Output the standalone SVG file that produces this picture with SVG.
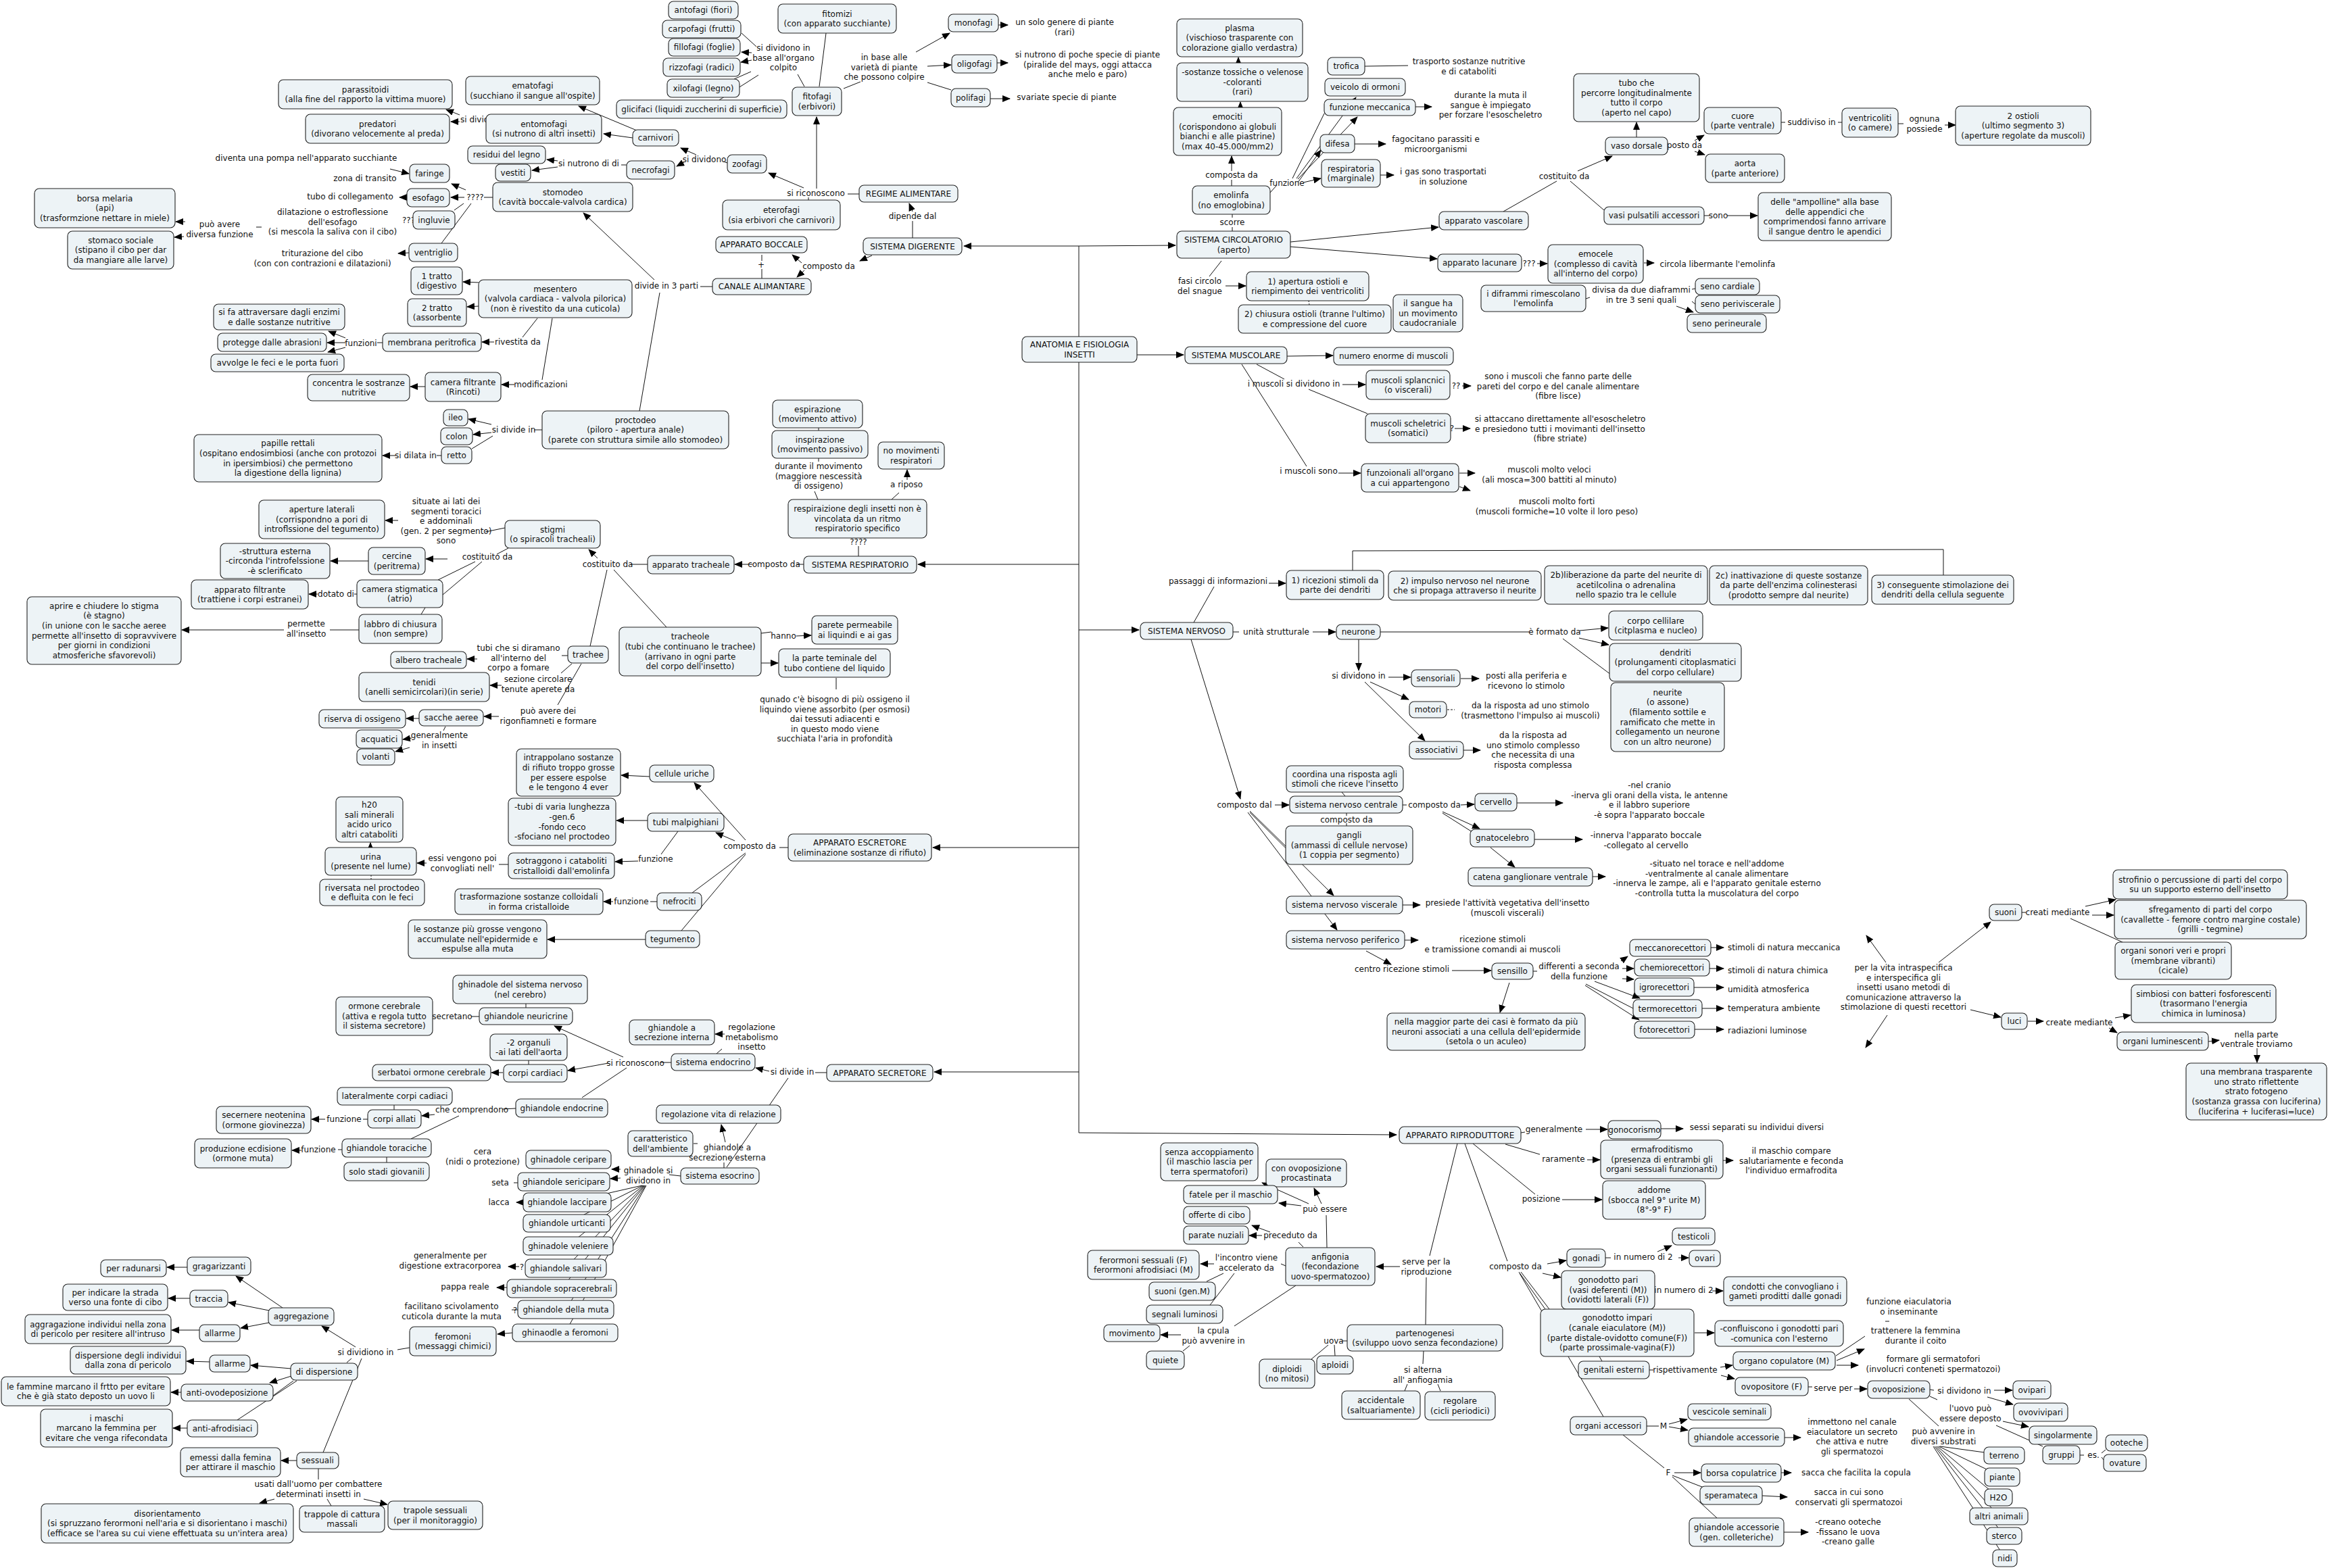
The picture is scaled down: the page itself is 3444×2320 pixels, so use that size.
<svg xmlns="http://www.w3.org/2000/svg" width="3444" height="2320" viewBox="0 0 3444 2320">
<style>
text{font-family:"DejaVu Sans",Verdana,sans-serif;font-size:12px;fill:#111;text-anchor:middle}
.n rect{fill:#edf3f6;stroke:#222;stroke-width:1.1}
#connectors path{fill:none;stroke:#111;stroke-width:1}
#connectors path.a{marker-end:url(#arr)}
.st{text-anchor:start}
</style>
<defs>
<marker id="arr" viewBox="0 0 12 10" refX="11" refY="5" markerWidth="12" markerHeight="10" markerUnits="userSpaceOnUse" orient="auto"><path d="M0,0 L12,5 L0,10 z" fill="#000"/></marker>
</defs>
<rect width="3444" height="2320" fill="#fff"/>
<g id="connectors">
<path d="M1596,364 L1596,1676 L2066,1679" class="a"/>
<path d="M1596,364 L1426,364" class="a"/>
<path d="M1596,364 L1739,363" class="a"/>
<path d="M1682,525 L1751,525" class="a"/>
<path d="M1596,835 L1358,835" class="a"/>
<path d="M1596,932 L1685,932" class="a"/>
<path d="M1596,1254 L1380,1254" class="a"/>
<path d="M1596,1586 L1382,1586" class="a"/>
<path d="M1350,352 L1350,327"/>
<path d="M1350,313 L1345,301" class="a"/>
<path d="M1290,378 L1272,386" class="a"/>
<path d="M1186,389 L1172,377" class="a"/>
<path d="M1190,400 L1179,410" class="a"/>
<path d="M1127,377 L1127,386"/>
<path d="M1127,398 L1127,412"/>
<path d="M1271,287 L1254,287"/>
<path d="M1208,279 L1208,173" class="a"/>
<path d="M1189,278 L1137,256" class="a"/>
<path d="M1196,292 L1196,297"/>
<path d="M1076,241 L1070,239"/>
<path d="M1030,229 L1007,219" class="a"/>
<path d="M1012,240 L1001,246" class="a"/>
<path d="M936,204 L893,198" class="a"/>
<path d="M942,193 L856,157" class="a"/>
<path d="M680,170 L660,162" class="a"/>
<path d="M680,180 L667,180" class="a"/>
<path d="M927,244 L919,244"/>
<path d="M825,238 L809,236" class="a"/>
<path d="M825,247 L787,252" class="a"/>
<path d="M1054,424 L1036,424"/>
<path d="M968,414 L863,315" class="a"/>
<path d="M976,433 L946,608"/>
<path d="M729,292 L716,292"/>
<path d="M689,281 L668,272" class="a"/>
<path d="M687,292 L667,292" class="a"/>
<path d="M686,301 L672,311"/>
<path d="M697,301 L653,360"/>
<path d="M577,250 L605,257" class="a"/>
<path d="M602,292 L591,292" class="a"/>
<path d="M605,374 L589,375" class="a"/>
<path d="M379,336 L387,336"/>
<path d="M274,328 L260,328" class="a"/>
<path d="M272,350 L258,351" class="a"/>
<path d="M708,418 L685,417" class="a"/>
<path d="M708,453 L691,454" class="a"/>
<path d="M795,471 L773,499"/>
<path d="M731,506 L713,506" class="a"/>
<path d="M566,507 L558,507"/>
<path d="M511,500 L486,490" class="a"/>
<path d="M511,507 L484,507" class="a"/>
<path d="M511,514 L485,521" class="a"/>
<path d="M817,471 L802,562"/>
<path d="M761,569 L742,569" class="a"/>
<path d="M629,572 L607,572" class="a"/>
<path d="M802,636 L790,636"/>
<path d="M727,628 L693,620" class="a"/>
<path d="M727,640 L700,643" class="a"/>
<path d="M729,645 L698,664"/>
<path d="M653,674 L646,674"/>
<path d="M585,674 L566,674" class="a"/>
<path d="M1190,128 L1180,110"/>
<path d="M1119,69 L1097,49"/>
<path d="M1112,78 L1097,77" class="a"/>
<path d="M1112,89 L1096,92" class="a"/>
<path d="M1111,106 L1086,117"/>
<path d="M1122,111 L1064,148"/>
<path d="M1212,128 L1222,49"/>
<path d="M1248,131 L1273,121"/>
<path d="M1355,77 L1405,49" class="a"/>
<path d="M1372,98 L1407,96" class="a"/>
<path d="M1372,122 L1407,133"/>
<path d="M1477,37 L1491,37" class="a"/>
<path d="M1475,93 L1491,93" class="a"/>
<path d="M1465,146 L1494,146" class="a"/>
<path d="M1270,823 L1270,808"/>
<path d="M1319,739 L1330,729"/>
<path d="M1342,710 L1342,695" class="a"/>
<path d="M1210,739 L1205,727"/>
<path d="M1211,683 L1211,678"/>
<path d="M1211,637 L1211,633"/>
<path d="M1189,835 L1178,835"/>
<path d="M1113,835 L1087,835" class="a"/>
<path d="M958,835 L933,835"/>
<path d="M884,826 L871,813" class="a"/>
<path d="M898,843 L873,956"/>
<path d="M908,843 L986,928"/>
<path d="M747,781 L718,787"/>
<path d="M589,770 L570,770" class="a"/>
<path d="M752,811 L735,820"/>
<path d="M662,827 L630,827" class="a"/>
<path d="M703,831 L648,858"/>
<path d="M713,831 L655,880"/>
<path d="M629,899 L623,909"/>
<path d="M545,830 L489,830" class="a"/>
<path d="M528,879 L524,879"/>
<path d="M470,879 L457,879" class="a"/>
<path d="M531,932 L488,932"/>
<path d="M420,932 L269,932" class="a"/>
<path d="M840,970 L831,970"/>
<path d="M706,975 L691,975" class="a"/>
<path d="M846,982 L830,996"/>
<path d="M742,1014 L725,1014" class="a"/>
<path d="M860,982 L825,1043"/>
<path d="M738,1060 L716,1060" class="a"/>
<path d="M620,1063 L601,1063" class="a"/>
<path d="M659,1075 L656,1081"/>
<path d="M609,1092 L596,1094" class="a"/>
<path d="M606,1106 L585,1112" class="a"/>
<path d="M1126,937 L1141,935"/>
<path d="M1178,941 L1200,940" class="a"/>
<path d="M1126,981 L1151,981" class="a"/>
<path d="M1237,1003 L1237,1020"/>
<path d="M1166,1254 L1153,1254"/>
<path d="M1103,1243 L1027,1158" class="a"/>
<path d="M1087,1244 L1059,1232" class="a"/>
<path d="M1103,1262 L1024,1321"/>
<path d="M1103,1264 L1008,1377"/>
<path d="M961,1149 L919,1147" class="a"/>
<path d="M958,1214 L912,1214" class="a"/>
<path d="M1003,1230 L978,1264"/>
<path d="M944,1274 L910,1275" class="a"/>
<path d="M752,1279 L738,1279"/>
<path d="M631,1277 L617,1277" class="a"/>
<path d="M548,1254 L548,1247" class="a"/>
<path d="M549,1295 L549,1301" stroke-dasharray="2,2"/>
<path d="M972,1334 L962,1334"/>
<path d="M907,1334 L893,1334" class="a"/>
<path d="M955,1390 L810,1390" class="a"/>
<path d="M1223,1587 L1206,1587"/>
<path d="M1138,1585 L1118,1580" class="a"/>
<path d="M1166,1595 L1075,1727"/>
<path d="M993,1572 L977,1572"/>
<path d="M1060,1559 L1068,1552"/>
<path d="M1072,1530 L1058,1530" class="a"/>
<path d="M922,1564 L820,1518" class="a"/>
<path d="M900,1573 L840,1584" class="a"/>
<path d="M927,1580 L861,1624"/>
<path d="M782,1569 L782,1575"/>
<path d="M778,1491 L778,1485"/>
<path d="M709,1504 L697,1504"/>
<path d="M744,1587 L727,1587" class="a"/>
<path d="M763,1640 L743,1641"/>
<path d="M643,1649 L624,1651" class="a"/>
<path d="M679,1651 L608,1685"/>
<path d="M583,1635 L583,1642"/>
<path d="M544,1656 L537,1656"/>
<path d="M481,1656 L461,1656" class="a"/>
<path d="M506,1701 L500,1701"/>
<path d="M446,1702 L432,1702" class="a"/>
<path d="M572,1712 L572,1720"/>
<path d="M1007,1740 L990,1738"/>
<path d="M918,1730 L905,1730" class="a"/>
<path d="M918,1743 L903,1744" class="a"/>
<path d="M950,1754 L840,1779"/>
<path d="M951,1754 L838,1810"/>
<path d="M952,1754 L840,1843"/>
<path d="M953,1754 L837,1876"/>
<path d="M954,1754 L831,1906"/>
<path d="M955,1754 L837,1937"/>
<path d="M956,1754 L836,1972"/>
<path d="M774,1779 L764,1779" class="a"/>
<path d="M766,1750 L760,1750"/>
<path d="M768,1874 L752,1874" class="a"/>
<path d="M750,1905 L735,1905" class="a"/>
<path d="M766,1938 L757,1938"/>
<path d="M758,1972 L736,1974" class="a"/>
<path d="M606,1994 L588,1997"/>
<path d="M526,1993 L476,1962" class="a"/>
<path d="M520,2010 L513,2016"/>
<path d="M535,2010 L478,2149"/>
<path d="M418,1935 L349,1888" class="a"/>
<path d="M398,1939 L338,1927" class="a"/>
<path d="M398,1957 L356,1965" class="a"/>
<path d="M277,1875 L247,1875" class="a"/>
<path d="M281,1921 L249,1921" class="a"/>
<path d="M295,1968 L254,1968" class="a"/>
<path d="M431,2025 L371,2020" class="a"/>
<path d="M431,2036 L399,2046" class="a"/>
<path d="M439,2043 L351,2101"/>
<path d="M404,2065 L434,2043"/>
<path d="M310,2015 L276,2014" class="a"/>
<path d="M268,2060 L253,2060" class="a"/>
<path d="M277,2113 L256,2113" class="a"/>
<path d="M439,2161 L416,2161" class="a"/>
<path d="M471,2173 L471,2189"/>
<path d="M406,2218 L384,2224" class="a"/>
<path d="M484,2218 L490,2228"/>
<path d="M538,2218 L573,2226" class="a"/>
<path d="M1071,1728 L1071,1720"/>
<path d="M1073,1690 L1067,1664" class="a"/>
<path d="M1026,1692 L1032,1692"/>
<path d="M1766,921 L1796,868"/>
<path d="M1877,863 L1902,863" class="a"/>
<path d="M2001,844 L2001,815 L2875,813 L2875,851"/>
<path d="M1824,935 L1833,935"/>
<path d="M1942,935 L1976,935" class="a"/>
<path d="M2042,935 L2262,935"/>
<path d="M2337,933 L2379,929" class="a"/>
<path d="M2336,944 L2380,954" class="a"/>
<path d="M2312,945 L2383,998"/>
<path d="M2010,946 L2010,992" class="a"/>
<path d="M2054,1002 L2087,1002" class="a"/>
<path d="M2027,1009 L2084,1035" class="a"/>
<path d="M2019,1009 L2108,1096" class="a"/>
<path d="M2161,1004 L2188,1004" class="a"/>
<path d="M2141,1050 L2152,1050" stroke-dasharray="3,2"/>
<path d="M2165,1110 L2190,1110" class="a"/>
<path d="M1762,946 L1835,1182" class="a"/>
<path d="M1886,1191 L1907,1191" class="a"/>
<path d="M1849,1200 L1902,1252"/>
<path d="M1849,1202 L1973,1325" class="a"/>
<path d="M1846,1202 L1978,1376" class="a"/>
<path d="M1992,1203 L1992,1207"/>
<path d="M1992,1218 L1992,1222"/>
<path d="M1990,1178 L1985,1172"/>
<path d="M2075,1191 L2081,1191"/>
<path d="M2161,1191 L2181,1190" class="a"/>
<path d="M2134,1201 L2189,1226" class="a"/>
<path d="M2134,1203 L2178,1231"/>
<path d="M2205,1254 L2241,1283" class="a"/>
<path d="M2244,1188 L2312,1188" class="a"/>
<path d="M2270,1242 L2341,1242" class="a"/>
<path d="M2356,1297 L2375,1297" class="a"/>
<path d="M2075,1339 L2101,1339" class="a"/>
<path d="M2078,1391 L2098,1391" class="a"/>
<path d="M2021,1407 L2058,1427" class="a"/>
<path d="M2148,1436 L2206,1436" class="a"/>
<path d="M2268,1437 L2274,1437"/>
<path d="M2398,1422 L2408,1415" class="a"/>
<path d="M2400,1433 L2417,1433" class="a"/>
<path d="M2400,1448 L2417,1449" class="a"/>
<path d="M2359,1452 L2426,1477" class="a"/>
<path d="M2346,1456 L2418,1493"/>
<path d="M2345,1458 L2425,1509" class="a"/>
<path d="M2531,1402 L2550,1402" class="a"/>
<path d="M2529,1433 L2550,1433" class="a"/>
<path d="M2506,1461 L2550,1461" class="a"/>
<path d="M2518,1492 L2550,1492" class="a"/>
<path d="M2507,1523 L2550,1523" class="a"/>
<path d="M2233,1454 L2219,1498" class="a"/>
<path d="M2790,1424 L2761,1384" class="a"/>
<path d="M2868,1424 L2945,1364" class="a"/>
<path d="M2915,1494 L2960,1505" class="a"/>
<path d="M2792,1502 L2760,1550" class="a"/>
<path d="M2991,1350 L2997,1350"/>
<path d="M3085,1341 L3130,1331" class="a"/>
<path d="M3095,1354 L3127,1354" class="a"/>
<path d="M3063,1359 L3140,1394"/>
<path d="M3000,1511 L3023,1511" class="a"/>
<path d="M3129,1506 L3152,1502" class="a"/>
<path d="M3120,1521 L3132,1528" class="a"/>
<path d="M3267,1541 L3283,1539" class="a"/>
<path d="M3339,1551 L3339,1572" class="a"/>
<path d="M1823,342 L1823,336"/>
<path d="M1823,322 L1823,317"/>
<path d="M1822,275 L1822,266"/>
<path d="M1822,253 L1822,231" class="a"/>
<path d="M1835,160 L1835,151" class="a"/>
<path d="M1832,93 L1832,85" class="a"/>
<path d="M1879,285 L1888,275"/>
<path d="M1918,264 L2006,144" class="a"/>
<path d="M1920,265 L2008,173" class="a"/>
<path d="M1912,264 L1959,168"/>
<path d="M1920,270 L1954,222" class="a"/>
<path d="M1928,270 L1954,264" class="a"/>
<path d="M2019,98 L2083,97"/>
<path d="M2094,158 L2118,158" class="a"/>
<path d="M2004,213 L2050,213" class="a"/>
<path d="M2042,259 L2062,259" class="a"/>
<path d="M1909,358 L2128,336" class="a"/>
<path d="M1909,365 L2126,383" class="a"/>
<path d="M1807,386 L1789,409"/>
<path d="M1813,423 L1843,423" class="a"/>
<path d="M1936,445 L1937,451" stroke-dasharray="2,2"/>
<path d="M2224,313 L2303,268"/>
<path d="M2334,253 L2385,231" class="a"/>
<path d="M2323,268 L2373,311"/>
<path d="M2421,203 L2421,181" class="a"/>
<path d="M2507,208 L2521,200" class="a"/>
<path d="M2507,224 L2522,229" class="a"/>
<path d="M2635,181 L2641,181"/>
<path d="M2719,181 L2725,181"/>
<path d="M2808,183 L2816,183"/>
<path d="M2877,185 L2893,185" class="a"/>
<path d="M2521,319 L2529,319"/>
<path d="M2555,319 L2600,319" class="a"/>
<path d="M2274,390 L2289,390" class="a"/>
<path d="M2432,389 L2447,389" class="a"/>
<path d="M2346,442 L2352,440"/>
<path d="M2503,428 L2508,427"/>
<path d="M2503,446 L2508,450"/>
<path d="M2480,453 L2505,462" class="a"/>
<path d="M1904,527 L1972,526" class="a"/>
<path d="M1859,539 L1900,561"/>
<path d="M1986,569 L2020,569" class="a"/>
<path d="M1936,576 L2023,612"/>
<path d="M1837,539 L1933,690"/>
<path d="M1980,700 L2013,700" class="a"/>
<path d="M2163,571 L2176,571" class="a"/>
<path d="M2152,634 L2175,634" class="a"/>
<path d="M2159,700 L2182,700" class="a"/>
<path d="M2159,720 L2175,726" class="a"/>
<path d="M2250,1676 L2256,1675"/>
<path d="M2346,1671 L2378,1671" class="a"/>
<path d="M2457,1670 L2490,1670" class="a"/>
<path d="M2227,1693 L2278,1708"/>
<path d="M2348,1716 L2367,1716" class="a"/>
<path d="M2549,1717 L2564,1717" class="a"/>
<path d="M2179,1692 L2271,1767"/>
<path d="M2311,1775 L2370,1775" class="a"/>
<path d="M2156,1692 L2115,1858"/>
<path d="M2071,1874 L2036,1874" class="a"/>
<path d="M2110,1890 L2109,1960"/>
<path d="M2167,1692 L2230,1866"/>
<path d="M2289,1870 L2317,1865" class="a"/>
<path d="M2282,1884 L2309,1890" class="a"/>
<path d="M2250,1882 L2292,1937"/>
<path d="M2247,1882 L2286,1937"/>
<path d="M2248,1884 L2372,2096"/>
<path d="M2375,1861 L2383,1861"/>
<path d="M2452,1852 L2473,1843" class="a"/>
<path d="M2483,1861 L2498,1861" class="a"/>
<path d="M2533,1910 L2549,1910" class="a"/>
<path d="M2507,1972 L2536,1972" class="a"/>
<path d="M2366,2007 L2370,2014"/>
<path d="M2440,2027 L2446,2027"/>
<path d="M2545,2023 L2563,2020" class="a"/>
<path d="M2546,2035 L2566,2040" class="a"/>
<path d="M2716,2006 L2759,1977"/>
<path d="M2717,2013 L2758,1996" class="a"/>
<path d="M2717,2020 L2749,2020" class="a"/>
<path d="M2789,1955 L2795,1955"/>
<path d="M2675,2052 L2681,2052"/>
<path d="M2743,2055 L2762,2055" class="a"/>
<path d="M2855,2056 L2861,2057"/>
<path d="M2950,2057 L2977,2057" class="a"/>
<path d="M2940,2067 L2978,2078" class="a"/>
<path d="M2855,2066 L2866,2071"/>
<path d="M2963,2103 L3001,2111" class="a"/>
<path d="M2953,2109 L3022,2140"/>
<path d="M3077,2153 L3083,2153"/>
<path d="M3109,2150 L3115,2145"/>
<path d="M3109,2156 L3112,2160"/>
<path d="M2824,2070 L2868,2110"/>
<path d="M2870,2140 L2965,2153"/>
<path d="M2868,2140 L2962,2185"/>
<path d="M2866,2140 L2956,2215"/>
<path d="M2864,2140 L2957,2243"/>
<path d="M2862,2140 L2965,2272"/>
<path d="M2860,2140 L2966,2305"/>
<path d="M2436,2110 L2454,2110"/>
<path d="M2469,2107 L2496,2100" class="a"/>
<path d="M2469,2111 L2497,2116" class="a"/>
<path d="M2401,2123 L2462,2172"/>
<path d="M2477,2179 L2516,2179" class="a"/>
<path d="M2474,2183 L2518,2200"/>
<path d="M2474,2185 L2540,2246"/>
<path d="M2640,2127 L2664,2127" class="a"/>
<path d="M2635,2179 L2650,2179" class="a"/>
<path d="M2607,2213 L2644,2215" class="a"/>
<path d="M2639,2267 L2675,2267" class="a"/>
<path d="M1963,1846 L1962,1798"/>
<path d="M1936,1781 L1867,1750" class="a"/>
<path d="M1925,1784 L1892,1780" class="a"/>
<path d="M1955,1781 L1944,1758" class="a"/>
<path d="M1928,1845 L1921,1838"/>
<path d="M1879,1823 L1852,1813" class="a"/>
<path d="M1867,1828 L1848,1828" class="a"/>
<path d="M1902,1873 L1895,1870"/>
<path d="M1796,1870 L1776,1870" class="a"/>
<path d="M1810,1884 L1785,1896"/>
<path d="M1826,1884 L1790,1931"/>
<path d="M1917,1902 L1826,1962"/>
<path d="M1747,1975 L1717,1975" class="a"/>
<path d="M1760,1991 L1750,1999"/>
<path d="M1993,1984 L1986,1984"/>
<path d="M1965,1990 L1940,2011"/>
<path d="M1974,1990 L1975,2006"/>
<path d="M2106,1999 L2105,2018"/>
<path d="M2082,2048 L2078,2058"/>
<path d="M2127,2048 L2131,2058"/>
</g>
<g id="labels">
<text x="681" y="181" class="st">si dividono</text>
<text x="871" y="246">si nutrono di di</text>
<text x="703" y="296">????</text>
<text x="453" y="238">diventa una pompa nell'apparato succhiante</text>
<text x="540" y="268">zona di transito</text>
<text x="518" y="295">tubo di collegamento</text>
<text x="492" y="318"><tspan x="492">dilatazione o estroflessione</tspan><tspan x="492" dy="14.6">dell'esofago</tspan><tspan x="492" dy="14.6">(si mescola la saliva con il cibo)</tspan></text>
<text x="614" y="330" style="text-anchor:end">???</text>
<text x="477" y="379"><tspan x="477">triturazione del cibo</tspan><tspan x="477" dy="14.6">(con con contrazioni e dilatazioni)</tspan></text>
<text x="325" y="336"><tspan x="325">può avere</tspan><tspan x="325" dy="14.6">diversa funzione</tspan></text>
<text x="534" y="512">funzioni</text>
<text x="766" y="510">rivestita da</text>
<text x="800" y="573">modificazioni</text>
<text x="760" y="640">si divide in</text>
<text x="615" y="678">si dilata in</text>
<text x="1159" y="75"><tspan x="1159">si dividono in</tspan><tspan x="1159" dy="14.6">base all'organo</tspan><tspan x="1159" dy="14.6">colpito</tspan></text>
<text x="1308" y="89"><tspan x="1308">in base alle</tspan><tspan x="1308" dy="14.6">varietà di piante</tspan><tspan x="1308" dy="14.6">che possono colpire</tspan></text>
<text x="1575" y="37"><tspan x="1575">un solo genere di piante</tspan><tspan x="1575" dy="14.6">(rari)</tspan></text>
<text x="1609" y="85"><tspan x="1609">si nutrono di poche specie di piante</tspan><tspan x="1609" dy="14.6">(piralide del mays, oggi attacca</tspan><tspan x="1609" dy="14.6">anche melo e paro)</tspan></text>
<text x="1578" y="148">svariate specie di piante</text>
<text x="1042" y="240">si dividono</text>
<text x="1207" y="290">si riconoscono</text>
<text x="1350" y="324">dipende dal</text>
<text x="1126" y="396">+</text>
<text x="1226" y="398">composto da</text>
<text x="986" y="427">divide in 3 parti</text>
<text x="1211" y="694"><tspan x="1211">durante il movimento</tspan><tspan x="1211" dy="14.6">(maggiore nescessità</tspan><tspan x="1211" dy="14.6">di ossigeno)</tspan></text>
<text x="1341" y="721">a riposo</text>
<text x="1270" y="806">????</text>
<text x="1822" y="263">composta da</text>
<text x="1823" y="333">scorre</text>
<text x="1904" y="275">funzione</text>
<text x="2173" y="95"><tspan x="2173">trasporto sostanze nutritive</tspan><tspan x="2173" dy="14.6">e di cataboliti</tspan></text>
<text x="2205" y="145"><tspan x="2205">durante la muta il</tspan><tspan x="2205" dy="14.6">sangue è impiegato</tspan><tspan x="2205" dy="14.6">per forzare l'esoscheletro</tspan></text>
<text x="2124" y="210"><tspan x="2124">fagocitano parassiti e</tspan><tspan x="2124" dy="14.6">microorganismi</tspan></text>
<text x="2135" y="258"><tspan x="2135">i gas sono trasportati</tspan><tspan x="2135" dy="14.6">in soluzione</tspan></text>
<text x="2262" y="394">???</text>
<text x="2541" y="395">circola libermante l'emolinfa</text>
<text x="2314" y="265">costituito da</text>
<text x="2492" y="219">posto da</text>
<text x="2542" y="323">sono</text>
<text x="2680" y="185">suddiviso in</text>
<text x="2847" y="180"><tspan x="2847">ognuna</tspan><tspan x="2847" dy="14.6">possiede</tspan></text>
<text x="1775" y="420"><tspan x="1775">fasi circolo</tspan><tspan x="1775" dy="14.6">del snague</tspan></text>
<text x="2428" y="433"><tspan x="2428">divisa da due diaframmi</tspan><tspan x="2428" dy="14.6">in tre 3 seni quali</tspan></text>
<text x="1914" y="572">i muscoli si dividono in</text>
<text x="2154" y="575">??</text>
<text x="2305" y="561"><tspan x="2305">sono i muscoli che fanno parte delle</tspan><tspan x="2305" dy="14.6">pareti del corpo e del canale alimentare</tspan><tspan x="2305" dy="14.6">(fibre lisce)</tspan></text>
<text x="2148" y="638">?</text>
<text x="2308" y="624"><tspan x="2308">si attaccano direttamente all'esoscheletro</tspan><tspan x="2308" dy="14.6">e presiedono tutti i movimanti dell'insetto</tspan><tspan x="2308" dy="14.6">(fibre striate)</tspan></text>
<text x="1936" y="701">i muscoli sono</text>
<text x="2292" y="699"><tspan x="2292">muscoli molto veloci</tspan><tspan x="2292" dy="14.6">(ali mosca=300 battiti al minuto)</tspan></text>
<text x="2303" y="746"><tspan x="2303">muscoli molto forti</tspan><tspan x="2303" dy="14.6">(muscoli formiche=10 volte il loro peso)</tspan></text>
<text x="660" y="746"><tspan x="660">situate ai lati dei</tspan><tspan x="660" dy="14.6">segmenti toracici</tspan><tspan x="660" dy="14.6">e addominali</tspan><tspan x="660" dy="14.6">(gen. 2 per segmento)</tspan><tspan x="660" dy="14.6">sono</tspan></text>
<text x="721" y="828">costituito da</text>
<text x="497" y="883">dotato di</text>
<text x="453" y="927"><tspan x="453">permette</tspan><tspan x="453" dy="14.6">all'insetto</tspan></text>
<text x="767" y="963"><tspan x="767">tubi che si diramano</tspan><tspan x="767" dy="14.6">all'interno del</tspan><tspan x="767" dy="14.6">corpo a fomare</tspan></text>
<text x="796" y="1009"><tspan x="796">sezione circolare</tspan><tspan x="796" dy="14.6">tenute aperete da</tspan></text>
<text x="811" y="1056"><tspan x="811">può avere dei</tspan><tspan x="811" dy="14.6">rigonfiamneti e formare</tspan></text>
<text x="650" y="1092"><tspan x="650">generalmente</tspan><tspan x="650" dy="14.6">in insetti</tspan></text>
<text x="1145" y="839">composto da</text>
<text x="899" y="839">costituito da</text>
<text x="1159" y="945">hanno</text>
<text x="1235" y="1039"><tspan x="1235">qunado c'è bisogno di più ossigeno il</tspan><tspan x="1235" dy="14.6">liquindo viene assorbito (per osmosi)</tspan><tspan x="1235" dy="14.6">dai tessuti adiacenti e</tspan><tspan x="1235" dy="14.6">in questo modo viene</tspan><tspan x="1235" dy="14.6">succhiata l'aria in profondità</tspan></text>
<text x="684" y="1274"><tspan x="684">essi vengono poi</tspan><tspan x="684" dy="14.6">convogliati nell'</tspan></text>
<text x="1109" y="1256">composto da</text>
<text x="970" y="1275">funzione</text>
<text x="934" y="1338">funzione</text>
<text x="1112" y="1524"><tspan x="1112">regolazione</tspan><tspan x="1112" dy="14.6">metabolismo</tspan><tspan x="1112" dy="14.6">insetto</tspan></text>
<text x="669" y="1508">secretano</text>
<text x="940" y="1577">si riconoscono</text>
<text x="1172" y="1590">si divide in</text>
<text x="698" y="1646">che comprendono</text>
<text x="509" y="1660">funzione</text>
<text x="471" y="1705">funzione</text>
<text x="714" y="1708"><tspan x="714">cera</tspan><tspan x="714" dy="14.6">(nidi o protezione)</tspan></text>
<text x="740" y="1754">seta</text>
<text x="738" y="1783">lacca</text>
<text x="666" y="1862"><tspan x="666">generalmente per</tspan><tspan x="666" dy="14.6">digestione extracorporea</tspan></text>
<text x="772" y="1879">?</text>
<text x="688" y="1908">pappa reale</text>
<text x="668" y="1937"><tspan x="668">facilitano scivolamento</tspan><tspan x="668" dy="14.6">cuticola durante la muta</tspan></text>
<text x="762" y="1943">?</text>
<text x="541" y="2005">si dividiono in</text>
<text x="471" y="2200"><tspan x="471">usati dall'uomo per combattere</tspan><tspan x="471" dy="14.6">determinati insetti in</tspan></text>
<text x="1076" y="1702"><tspan x="1076">ghiandole a</tspan><tspan x="1076" dy="14.6">secrezione esterna</tspan></text>
<text x="959" y="1736"><tspan x="959">ghinadole si</tspan><tspan x="959" dy="14.6">dividono in</tspan></text>
<text x="1802" y="864">passaggi di informazioni</text>
<text x="1888" y="939">unità strutturale</text>
<text x="2300" y="939">è formato da</text>
<text x="2010" y="1004">si dividono in</text>
<text x="2258" y="1004"><tspan x="2258">posti alla periferia e</tspan><tspan x="2258" dy="14.6">ricevono lo stimolo</tspan></text>
<text x="2264" y="1048"><tspan x="2264">da la risposta ad uno stimolo</tspan><tspan x="2264" dy="14.6">(trasmettono l'impulso ai muscoli)</tspan></text>
<text x="2268" y="1092"><tspan x="2268">da la risposta ad</tspan><tspan x="2268" dy="14.6">uno stimolo complesso</tspan><tspan x="2268" dy="14.6">che necessita di una</tspan><tspan x="2268" dy="14.6">risposta complessa</tspan></text>
<text x="1841" y="1195">composto dal</text>
<text x="2122" y="1195">composto da</text>
<text x="1992" y="1217">composto da</text>
<text x="2440" y="1166"><tspan x="2440">-nel cranio</tspan><tspan x="2440" dy="14.6">-inerva gli orani della vista, le antenne</tspan><tspan x="2440" dy="14.6">e il labbro superiore</tspan><tspan x="2440" dy="14.6">-è sopra l'apparato boccale</tspan></text>
<text x="2435" y="1240"><tspan x="2435">-innerva l'apparato boccale</tspan><tspan x="2435" dy="14.6">-collegato al cervello</tspan></text>
<text x="2540" y="1282"><tspan x="2540">-situato nel torace e nell'addome</tspan><tspan x="2540" dy="14.6">-ventralmente al canale alimentare</tspan><tspan x="2540" dy="14.6">-innerva le zampe, ali e l'apparato genitale esterno</tspan><tspan x="2540" dy="14.6">-controlla tutta la muscolatura del corpo</tspan></text>
<text x="2230" y="1340"><tspan x="2230">presiede l'attività vegetativa dell'insetto</tspan><tspan x="2230" dy="14.6">(muscoli viscerali)</tspan></text>
<text x="2208" y="1394"><tspan x="2208">ricezione stimoli</tspan><tspan x="2208" dy="14.6">e tramissione comandi ai muscoli</tspan></text>
<text x="2074" y="1438">centro ricezione stimoli</text>
<text x="2336" y="1434"><tspan x="2336">differenti a seconda</tspan><tspan x="2336" dy="14.6">della funzione</tspan></text>
<text x="2556" y="1406" class="st">stimoli di natura meccanica</text>
<text x="2556" y="1440" class="st">stimoli di natura chimica</text>
<text x="2556" y="1468" class="st">umidità atmosferica</text>
<text x="2556" y="1496" class="st">temperatura ambiente</text>
<text x="2556" y="1529" class="st">radiazioni luminose</text>
<text x="2816" y="1436"><tspan x="2816">per la vita intraspecifica</tspan><tspan x="2816" dy="14.6">e interspecifica gli</tspan><tspan x="2816" dy="14.6">insetti usano metodi di</tspan><tspan x="2816" dy="14.6">comunicazione attraverso la</tspan><tspan x="2816" dy="14.6">stimolazione di questi recettori</tspan></text>
<text x="3044" y="1354">creati mediante</text>
<text x="3076" y="1517">create mediante</text>
<text x="3338" y="1535"><tspan x="3338">nella parte</tspan><tspan x="3338" dy="14.2">ventrale troviamo</tspan></text>
<text x="2299" y="1675">generalmente</text>
<text x="2599" y="1672">sessi separati su individui diversi</text>
<text x="2313" y="1719">raramente</text>
<text x="2650" y="1707"><tspan x="2650">il maschio compare</tspan><tspan x="2650" dy="14.6">salutariamente e feconda</tspan><tspan x="2650" dy="14.6">l'individuo ermafrodita</tspan></text>
<text x="2280" y="1778">posizione</text>
<text x="1960" y="1793">può essere</text>
<text x="1909" y="1832">preceduto da</text>
<text x="1844" y="1865"><tspan x="1844">l'incontro viene</tspan><tspan x="1844" dy="14.6">accelerato da</tspan></text>
<text x="1795" y="1973"><tspan x="1795">la cpula</tspan><tspan x="1795" dy="14.6">può avvenire in</tspan></text>
<text x="2110" y="1871"><tspan x="2110">serve per la</tspan><tspan x="2110" dy="14.6">riproduzione</tspan></text>
<text x="1973" y="1988">uova</text>
<text x="2105" y="2031"><tspan x="2105">si alterna</tspan><tspan x="2105" dy="14.6">all' anfiogamia</tspan></text>
<text x="2242" y="1878">composto da</text>
<text x="2431" y="1864">in numero di 2</text>
<text x="2491" y="1913">in numero di 2</text>
<text x="2493" y="2031">rispettivamente</text>
<text x="2824" y="1930"><tspan x="2824">funzione eiaculatoria</tspan><tspan x="2824" dy="14.6">o inseminante</tspan></text>
<text x="2834" y="1973"><tspan x="2834">trattenere la femmina</tspan><tspan x="2834" dy="14.6">durante il coito</tspan></text>
<text x="2860" y="2015"><tspan x="2860">formare gli sermatofori</tspan><tspan x="2860" dy="14.6">(involucri conteneti spermatozoi)</tspan></text>
<text x="2712" y="2058">serve per</text>
<text x="2906" y="2062">si dividono in</text>
<text x="2915" y="2088"><tspan x="2915">l'uovo può</tspan><tspan x="2915" dy="14.6">essere deposto</tspan></text>
<text x="3097" y="2157">es.</text>
<text x="2875" y="2122"><tspan x="2875">può avvenire in</tspan><tspan x="2875" dy="14.6">diversi substrati</tspan></text>
<text x="2461" y="2114">M</text>
<text x="2740" y="2108"><tspan x="2740">immettono nel canale</tspan><tspan x="2740" dy="14.6">eiaculatore un secreto</tspan><tspan x="2740" dy="14.6">che attiva e nutre</tspan><tspan x="2740" dy="14.6">gli spermatozoi</tspan></text>
<text x="2468" y="2183">F</text>
<text x="2746" y="2183">sacca che facilita la copula</text>
<text x="2735" y="2212"><tspan x="2735">sacca in cui sono</tspan><tspan x="2735" dy="14.6">conservati gli spermatozoi</tspan></text>
<text x="2734" y="2256"><tspan x="2734">-creano ooteche</tspan><tspan x="2734" dy="14.6">-fissano le uova</tspan><tspan x="2734" dy="14.6">-creano galle</tspan></text>
</g>
<g id="nodes" class="n">
<g id="n-parassitoidi"><rect x="412" y="118" width="257" height="43" rx="7"/><text x="540.5" y="136.5"><tspan x="540.5">parassitoidi</tspan><tspan x="540.5" dy="14.6">(alla fine del rapporto la vittima muore)</tspan></text></g>
<g id="n-predatori"><rect x="452" y="169" width="213" height="43" rx="7"/><text x="558.5" y="187.5"><tspan x="558.5">predatori</tspan><tspan x="558.5" dy="14.6">(divorano velocemente al preda)</tspan></text></g>
<g id="n-ematofagi"><rect x="689" y="113" width="198" height="42" rx="7"/><text x="788" y="131"><tspan x="788">ematofagi</tspan><tspan x="788" dy="14.6">(succhiano il sangue all'ospite)</tspan></text></g>
<g id="n-entomofagi"><rect x="719" y="169" width="171" height="43" rx="7"/><text x="804.5" y="187.5"><tspan x="804.5">entomofagi</tspan><tspan x="804.5" dy="14.6">(si nutrono di altri insetti)</tspan></text></g>
<g id="n-residui"><rect x="692" y="216" width="115" height="26" rx="7"/><text x="749.5" y="233.3">residui del legno</text></g>
<g id="n-vestiti"><rect x="733" y="243" width="52" height="25" rx="7"/><text x="759" y="259.8">vestiti</text></g>
<g id="n-necrofagi"><rect x="927" y="238" width="71" height="27" rx="7"/><text x="962.5" y="255.8">necrofagi</text></g>
<g id="n-faringe"><rect x="606" y="243" width="59" height="27" rx="7"/><text x="635.5" y="260.8">faringe</text></g>
<g id="n-esofago"><rect x="602" y="279" width="63" height="27" rx="7"/><text x="633.5" y="296.8">esofago</text></g>
<g id="n-ingluvie"><rect x="611" y="312" width="62" height="27" rx="7"/><text x="642" y="329.8">ingluvie</text></g>
<g id="n-ventriglio"><rect x="605" y="360" width="72" height="27" rx="7"/><text x="641" y="377.8">ventriglio</text></g>
<g id="n-stomodeo"><rect x="729" y="270" width="207" height="43" rx="7"/><text x="832.5" y="288.5"><tspan x="832.5">stomodeo</tspan><tspan x="832.5" dy="14.6">(cavità boccale-valvola cardica)</tspan></text></g>
<g id="n-borsa"><rect x="51" y="279" width="208" height="58" rx="7"/><text x="155" y="297.7"><tspan x="155">borsa melaria</tspan><tspan x="155" dy="14.6">(api)</tspan><tspan x="155" dy="14.6">(trasformzione nettare in miele)</tspan></text></g>
<g id="n-stomaco"><rect x="100" y="342" width="157" height="56" rx="7"/><text x="178.5" y="359.7"><tspan x="178.5">stomaco sociale</tspan><tspan x="178.5" dy="14.6">(stipano il cibo per dar</tspan><tspan x="178.5" dy="14.6">da mangiare alle larve)</tspan></text></g>
<g id="n-tratto1"><rect x="608" y="395" width="76" height="41" rx="7"/><text x="646" y="412.5"><tspan x="646">1 tratto</tspan><tspan x="646" dy="14.6">(digestivo</tspan></text></g>
<g id="n-tratto2"><rect x="603" y="442" width="87" height="41" rx="7"/><text x="646.5" y="459.5"><tspan x="646.5">2 tratto</tspan><tspan x="646.5" dy="14.6">(assorbente</tspan></text></g>
<g id="n-mesentero"><rect x="708" y="414" width="227" height="56" rx="7"/><text x="821.5" y="431.7"><tspan x="821.5">mesentero</tspan><tspan x="821.5" dy="14.6">(valvola cardiaca - valvola pilorica)</tspan><tspan x="821.5" dy="14.6">(non è rivestito da una cuticola)</tspan></text></g>
<g id="n-attraversare"><rect x="316" y="450" width="194" height="38" rx="7"/><text x="413" y="466"><tspan x="413">si fa attraversare dagli enzimi</tspan><tspan x="413" dy="14.6">e dalle sostanze nutritive</tspan></text></g>
<g id="n-protegge"><rect x="322" y="493" width="161" height="27" rx="7"/><text x="402.5" y="510.8">protegge dalle abrasioni</text></g>
<g id="n-avvolge"><rect x="312" y="524" width="197" height="26" rx="7"/><text x="410.5" y="541.3">avvolge le feci e le porta fuori</text></g>
<g id="n-membrana"><rect x="566" y="493" width="146" height="27" rx="7"/><text x="639" y="510.8">membrana peritrofica</text></g>
<g id="n-concentra"><rect x="455" y="554" width="151" height="39" rx="7"/><text x="530.5" y="570.5"><tspan x="530.5">concentra le sostranze</tspan><tspan x="530.5" dy="14.6">nutritive</tspan></text></g>
<g id="n-camerafiltrante"><rect x="629" y="551" width="112" height="43" rx="7"/><text x="685" y="569.5"><tspan x="685">camera filtrante</tspan><tspan x="685" dy="14.6">(Rincoti)</tspan></text></g>
<g id="n-ileo"><rect x="656" y="606" width="36" height="24" rx="7"/><text x="674" y="622.3">ileo</text></g>
<g id="n-colon"><rect x="652" y="633" width="47" height="25" rx="7"/><text x="675.5" y="649.8">colon</text></g>
<g id="n-retto"><rect x="653" y="661" width="45" height="25" rx="7"/><text x="675.5" y="677.8">retto</text></g>
<g id="n-papille"><rect x="287" y="643" width="278" height="70" rx="7"/><text x="426" y="660.4"><tspan x="426">papille rettali</tspan><tspan x="426" dy="14.6">(ospitano endosimbiosi (anche con protozoi</tspan><tspan x="426" dy="14.6">in ipersimbiosi) che permettono</tspan><tspan x="426" dy="14.6">la digestione della lignina)</tspan></text></g>
<g id="n-proctodeo"><rect x="802" y="608" width="276" height="56" rx="7"/><text x="940" y="625.7"><tspan x="940">proctodeo</tspan><tspan x="940" dy="14.6">(piloro - apertura anale)</tspan><tspan x="940" dy="14.6">(parete con struttura simile allo stomodeo)</tspan></text></g>
<g id="n-antofagi"><rect x="989" y="2" width="103" height="26" rx="7"/><text x="1040.5" y="19.3">antofagi (fiori)</text></g>
<g id="n-carpofagi"><rect x="980" y="30" width="116" height="26" rx="7"/><text x="1038" y="47.3">carpofagi (frutti)</text></g>
<g id="n-fillofagi"><rect x="989" y="57" width="106" height="26" rx="7"/><text x="1042" y="74.3">fillofagi (foglie)</text></g>
<g id="n-rizzofagi"><rect x="981" y="86" width="114" height="27" rx="7"/><text x="1038" y="103.8">rizzofagi (radici)</text></g>
<g id="n-xilofagi"><rect x="987" y="117" width="107" height="27" rx="7"/><text x="1040.5" y="134.8">xilofagi (legno)</text></g>
<g id="n-glicifaci"><rect x="912" y="148" width="252" height="27" rx="7"/><text x="1038" y="165.8">glicifaci (liquidi zuccherini di superficie)</text></g>
<g id="n-fitomizi"><rect x="1151" y="6" width="175" height="43" rx="7"/><text x="1238.5" y="24.5"><tspan x="1238.5">fitomizi</tspan><tspan x="1238.5" dy="14.6">(con apparato succhiante)</tspan></text></g>
<g id="n-fitofagi"><rect x="1172" y="129" width="73" height="42" rx="7"/><text x="1208.5" y="147"><tspan x="1208.5">fitofagi</tspan><tspan x="1208.5" dy="14.6">(erbivori)</tspan></text></g>
<g id="n-monofagi"><rect x="1403" y="21" width="74" height="26" rx="7"/><text x="1440" y="38.3">monofagi</text></g>
<g id="n-oligofagi"><rect x="1408" y="81" width="67" height="27" rx="7"/><text x="1441.5" y="98.8">oligofagi</text></g>
<g id="n-polifagi"><rect x="1407" y="131" width="58" height="27" rx="7"/><text x="1436" y="148.8">polifagi</text></g>
<g id="n-carnivori"><rect x="936" y="192" width="68" height="24" rx="7"/><text x="970" y="208.3">carnivori</text></g>
<g id="n-zoofagi"><rect x="1076" y="229" width="58" height="27" rx="7"/><text x="1105" y="246.8">zoofagi</text></g>
<g id="n-regime"><rect x="1271" y="274" width="146" height="25" rx="7"/><text x="1344" y="290.8">REGIME ALIMENTARE</text></g>
<g id="n-eterofagi"><rect x="1069" y="296" width="174" height="44" rx="7"/><text x="1156" y="315"><tspan x="1156">eterofagi</tspan><tspan x="1156" dy="14.6">(sia erbivori che carnivori)</tspan></text></g>
<g id="n-digerente"><rect x="1277" y="352" width="146" height="25" rx="7"/><text x="1350" y="368.8">SISTEMA DIGERENTE</text></g>
<g id="n-boccale"><rect x="1059" y="350" width="135" height="24" rx="7"/><text x="1126.5" y="366.3">APPARATO BOCCALE</text></g>
<g id="n-canale"><rect x="1054" y="412" width="146" height="24" rx="7"/><text x="1127" y="428.3">CANALE ALIMANTARE</text></g>
<g id="n-anatomia"><rect x="1512" y="498" width="170" height="38" rx="7"/><text x="1597" y="514"><tspan x="1597">ANATOMIA E FISIOLOGIA</tspan><tspan x="1597" dy="14.6">INSETTI</tspan></text></g>
<g id="n-espirazione"><rect x="1143" y="592" width="133" height="41" rx="7"/><text x="1209.5" y="609.5"><tspan x="1209.5">espirazione</tspan><tspan x="1209.5" dy="14.6">(movimento attivo)</tspan></text></g>
<g id="n-inspirazione"><rect x="1142" y="637" width="142" height="41" rx="7"/><text x="1213" y="654.5"><tspan x="1213">inspirazione</tspan><tspan x="1213" dy="14.6">(movimento passivo)</tspan></text></g>
<g id="n-nomovimenti"><rect x="1299" y="654" width="98" height="40" rx="7"/><text x="1348" y="671"><tspan x="1348">no movimenti</tspan><tspan x="1348" dy="14.6">respiratori</tspan></text></g>
<g id="n-respiraizione"><rect x="1166" y="739" width="205" height="57" rx="7"/><text x="1268.5" y="757.2"><tspan x="1268.5">respiraizione degli insetti non è</tspan><tspan x="1268.5" dy="14.6">vincolata da un ritmo</tspan><tspan x="1268.5" dy="14.6">respiratorio specifico</tspan></text></g>
<g id="n-plasma"><rect x="1741" y="28" width="186" height="56" rx="7"/><text x="1834" y="45.7"><tspan x="1834">plasma</tspan><tspan x="1834" dy="14.6">(vischioso trasparente con</tspan><tspan x="1834" dy="14.6">colorazione giallo verdastra)</tspan></text></g>
<g id="n-sostanze"><rect x="1741" y="93" width="194" height="57" rx="7"/><text x="1838" y="111.2"><tspan x="1838">-sostanze tossiche o velenose</tspan><tspan x="1838" dy="14.6">-coloranti</tspan><tspan x="1838" dy="14.6">(rari)</tspan></text></g>
<g id="n-emociti"><rect x="1736" y="159" width="160" height="71" rx="7"/><text x="1816" y="176.9"><tspan x="1816">emociti</tspan><tspan x="1816" dy="14.6">(corispondono ai globuli</tspan><tspan x="1816" dy="14.6">bianchi e alle piastrine)</tspan><tspan x="1816" dy="14.6">(max 40-45.000/mm2)</tspan></text></g>
<g id="n-emolinfa"><rect x="1764" y="275" width="115" height="42" rx="7"/><text x="1821.5" y="293"><tspan x="1821.5">emolinfa</tspan><tspan x="1821.5" dy="14.6">(no emoglobina)</tspan></text></g>
<g id="n-circolatorio"><rect x="1741" y="342" width="168" height="40" rx="7"/><text x="1825" y="359"><tspan x="1825">SISTEMA CIRCOLATORIO</tspan><tspan x="1825" dy="14.6">(aperto)</tspan></text></g>
<g id="n-trofica"><rect x="1964" y="85" width="55" height="26" rx="7"/><text x="1991.5" y="102.3">trofica</text></g>
<g id="n-veicolo"><rect x="1960" y="116" width="119" height="26" rx="7"/><text x="2019.5" y="133.3">veicolo di ormoni</text></g>
<g id="n-meccanica"><rect x="1959" y="147" width="135" height="24" rx="7"/><text x="2026.5" y="163.3">funzione meccanica</text></g>
<g id="n-difesa"><rect x="1953" y="199" width="51" height="27" rx="7"/><text x="1978.5" y="216.8">difesa</text></g>
<g id="n-respiratoria"><rect x="1955" y="236" width="87" height="41" rx="7"/><text x="1998.5" y="253.5"><tspan x="1998.5">respiratoria</tspan><tspan x="1998.5" dy="14.6">(marginale)</tspan></text></g>
<g id="n-vascolare"><rect x="2129" y="313" width="132" height="27" rx="7"/><text x="2195" y="330.8">apparato vascolare</text></g>
<g id="n-lacunare"><rect x="2127" y="376" width="124" height="26" rx="7"/><text x="2189" y="393.3">apparato lacunare</text></g>
<g id="n-emocele"><rect x="2290" y="362" width="141" height="57" rx="7"/><text x="2360.5" y="380.2"><tspan x="2360.5">emocele</tspan><tspan x="2360.5" dy="14.6">(complesso di cavità</tspan><tspan x="2360.5" dy="14.6">all'interno del corpo)</tspan></text></g>
<g id="n-tubo"><rect x="2328" y="109" width="186" height="71" rx="7"/><text x="2421" y="126.9"><tspan x="2421">tubo che</tspan><tspan x="2421" dy="14.6">percorre longitudinalmente</tspan><tspan x="2421" dy="14.6">tutto il corpo</tspan><tspan x="2421" dy="14.6">(aperto nel capo)</tspan></text></g>
<g id="n-vasodorsale"><rect x="2375" y="203" width="92" height="26" rx="7"/><text x="2421" y="220.3">vaso dorsale</text></g>
<g id="n-cuore"><rect x="2521" y="159" width="114" height="39" rx="7"/><text x="2578" y="175.5"><tspan x="2578">cuore</tspan><tspan x="2578" dy="14.6">(parte ventrale)</tspan></text></g>
<g id="n-aorta"><rect x="2523" y="228" width="117" height="42" rx="7"/><text x="2581.5" y="246"><tspan x="2581.5">aorta</tspan><tspan x="2581.5" dy="14.6">(parte anteriore)</tspan></text></g>
<g id="n-vasipulsatili"><rect x="2373" y="306" width="148" height="26" rx="7"/><text x="2447" y="323.3">vasi pulsatili accessori</text></g>
<g id="n-ventricoliti"><rect x="2725" y="160" width="83" height="43" rx="7"/><text x="2766.5" y="178.5"><tspan x="2766.5">ventricoliti</tspan><tspan x="2766.5" dy="14.6">(o camere)</tspan></text></g>
<g id="n-ostioli"><rect x="2893" y="157" width="200" height="58" rx="7"/><text x="2993" y="175.7"><tspan x="2993">2 ostioli</tspan><tspan x="2993" dy="14.6">(ultimo segmento 3)</tspan><tspan x="2993" dy="14.6">(aperture regolate da muscoli)</tspan></text></g>
<g id="n-ampolline"><rect x="2601" y="285" width="197" height="71" rx="7"/><text x="2699.5" y="302.9"><tspan x="2699.5">delle "ampolline" alla base</tspan><tspan x="2699.5" dy="14.6">delle appendici che</tspan><tspan x="2699.5" dy="14.6">comprimendosi fanno arrivare</tspan><tspan x="2699.5" dy="14.6">il sangue dentro le apendici</tspan></text></g>
<g id="n-fase1"><rect x="1844" y="402" width="181" height="43" rx="7"/><text x="1934.5" y="420.5"><tspan x="1934.5">1) apertura ostioli e</tspan><tspan x="1934.5" dy="14.6">riempimento dei ventricoliti</tspan></text></g>
<g id="n-fase2"><rect x="1832" y="451" width="226" height="42" rx="7"/><text x="1945" y="469"><tspan x="1945">2) chiusura ostioli (tranne l'ultimo)</tspan><tspan x="1945" dy="14.6">e compressione del cuore</tspan></text></g>
<g id="n-sangueha"><rect x="2061" y="436" width="103" height="55" rx="7"/><text x="2112.5" y="453.2"><tspan x="2112.5">il sangue ha</tspan><tspan x="2112.5" dy="14.6">un movimento</tspan><tspan x="2112.5" dy="14.6">caudocraniale</tspan></text></g>
<g id="n-diframmi"><rect x="2191" y="422" width="155" height="39" rx="7"/><text x="2268.5" y="438.5"><tspan x="2268.5">i diframmi rimescolano</tspan><tspan x="2268.5" dy="14.6">l'emolinfa</tspan></text></g>
<g id="n-senocardiale"><rect x="2508" y="412" width="95" height="24" rx="7"/><text x="2555.5" y="428.3">seno cardiale</text></g>
<g id="n-senoperiviscerale"><rect x="2508" y="437" width="125" height="26" rx="7"/><text x="2570.5" y="454.3">seno periviscerale</text></g>
<g id="n-senoperineurale"><rect x="2496" y="465" width="117" height="27" rx="7"/><text x="2554.5" y="482.8">seno perineurale</text></g>
<g id="n-muscolare"><rect x="1753" y="513" width="151" height="25" rx="7"/><text x="1828.5" y="529.8">SISTEMA MUSCOLARE</text></g>
<g id="n-numeroenorme"><rect x="1973" y="514" width="177" height="26" rx="7"/><text x="2061.5" y="531.3">numero enorme di muscoli</text></g>
<g id="n-splancnici"><rect x="2021" y="548" width="124" height="43" rx="7"/><text x="2083" y="566.5"><tspan x="2083">muscoli splancnici</tspan><tspan x="2083" dy="14.6">(o viscerali)</tspan></text></g>
<g id="n-scheletrici"><rect x="2020" y="612" width="126" height="43" rx="7"/><text x="2083" y="630.5"><tspan x="2083">muscoli scheletrici</tspan><tspan x="2083" dy="14.6">(somatici)</tspan></text></g>
<g id="n-funzoionali"><rect x="2014" y="686" width="144" height="42" rx="7"/><text x="2086" y="704"><tspan x="2086">funzoionali all'organo</tspan><tspan x="2086" dy="14.6">a cui appartengono</tspan></text></g>
<g id="n-aperture"><rect x="383" y="740" width="186" height="57" rx="7"/><text x="476" y="758.2"><tspan x="476">aperture laterali</tspan><tspan x="476" dy="14.6">(corrispondno a pori di</tspan><tspan x="476" dy="14.6">introflssione del tegumento)</tspan></text></g>
<g id="n-stigmi"><rect x="747" y="770" width="141" height="41" rx="7"/><text x="817.5" y="787.5"><tspan x="817.5">stigmi</tspan><tspan x="817.5" dy="14.6">(o spiracoli tracheali)</tspan></text></g>
<g id="n-cercine"><rect x="545" y="810" width="84" height="40" rx="7"/><text x="587" y="827"><tspan x="587">cercine</tspan><tspan x="587" dy="14.6">(peritrema)</tspan></text></g>
<g id="n-strutturaesterna"><rect x="326" y="804" width="162" height="52" rx="7"/><text x="407" y="819.7"><tspan x="407">-struttura esterna</tspan><tspan x="407" dy="14.6">-circonda l'introfelssione</tspan><tspan x="407" dy="14.6">-è sclerificato</tspan></text></g>
<g id="n-camerastigmatica"><rect x="528" y="858" width="127" height="41" rx="7"/><text x="591.5" y="875.5"><tspan x="591.5">camera stigmatica</tspan><tspan x="591.5" dy="14.6">(atrio)</tspan></text></g>
<g id="n-apparatofiltrante"><rect x="283" y="858" width="173" height="43" rx="7"/><text x="369.5" y="876.5"><tspan x="369.5">apparato filtrante</tspan><tspan x="369.5" dy="14.6">(trattiene i corpi estranei)</tspan></text></g>
<g id="n-labbro"><rect x="531" y="909" width="123" height="43" rx="7"/><text x="592.5" y="927.5"><tspan x="592.5">labbro di chiusura</tspan><tspan x="592.5" dy="14.6">(non sempre)</tspan></text></g>
<g id="n-aprire"><rect x="40" y="883" width="228" height="100" rx="7"/><text x="154" y="900.8"><tspan x="154">aprire e chiudere lo stigma</tspan><tspan x="154" dy="14.6">(è stagno)</tspan><tspan x="154" dy="14.6">(in unione con le sacche aeree</tspan><tspan x="154" dy="14.6">permette all'insetto di sopravvivere</tspan><tspan x="154" dy="14.6">per giorni in condizioni</tspan><tspan x="154" dy="14.6">atmosferiche sfavorevoli)</tspan></text></g>
<g id="n-albero"><rect x="578" y="964" width="112" height="25" rx="7"/><text x="634" y="980.8">albero tracheale</text></g>
<g id="n-trachee"><rect x="840" y="956" width="60" height="25" rx="7"/><text x="870" y="972.8">trachee</text></g>
<g id="n-tenidi"><rect x="531" y="995" width="193" height="43" rx="7"/><text x="627.5" y="1013.5"><tspan x="627.5">tenidi</tspan><tspan x="627.5" dy="14.6">(anelli semicircolari)(in serie)</tspan></text></g>
<g id="n-sacche"><rect x="620" y="1050" width="95" height="24" rx="7"/><text x="667.5" y="1066.3">sacche aeree</text></g>
<g id="n-riserva"><rect x="472" y="1050" width="128" height="27" rx="7"/><text x="536" y="1067.8">riserva di ossigeno</text></g>
<g id="n-acquatici"><rect x="527" y="1080" width="68" height="27" rx="7"/><text x="561" y="1097.8">acquatici</text></g>
<g id="n-volanti"><rect x="528" y="1108" width="56" height="24" rx="7"/><text x="556" y="1124.3">volanti</text></g>
<g id="n-tracheale"><rect x="958" y="822" width="128" height="27" rx="7"/><text x="1022" y="839.8">apparato tracheale</text></g>
<g id="n-respiratorio"><rect x="1189" y="823" width="167" height="25" rx="7"/><text x="1272.5" y="839.8">SISTEMA RESPIRATORIO</text></g>
<g id="n-tracheole"><rect x="916" y="928" width="210" height="72" rx="7"/><text x="1021" y="946.4"><tspan x="1021">tracheole</tspan><tspan x="1021" dy="14.6">(tubi che continuano le trachee)</tspan><tspan x="1021" dy="14.6">(arrivano in ogni parte</tspan><tspan x="1021" dy="14.6">del corpo dell'insetto)</tspan></text></g>
<g id="n-parete"><rect x="1201" y="911" width="127" height="42" rx="7"/><text x="1264.5" y="929"><tspan x="1264.5">parete permeabile</tspan><tspan x="1264.5" dy="14.6">ai liquindi e ai gas</tspan></text></g>
<g id="n-parteteminale"><rect x="1152" y="960" width="165" height="42" rx="7"/><text x="1234.5" y="978"><tspan x="1234.5">la parte teminale del</tspan><tspan x="1234.5" dy="14.6">tubo contiene del liquido</tspan></text></g>
<g id="n-intrappolano"><rect x="764" y="1108" width="154" height="70" rx="7"/><text x="841" y="1125.4"><tspan x="841">intrappolano sostanze</tspan><tspan x="841" dy="14.6">di rifiuto troppo grosse</tspan><tspan x="841" dy="14.6">per essere espolse</tspan><tspan x="841" dy="14.6">e le tengono 4 ever</tspan></text></g>
<g id="n-tubivaria"><rect x="752" y="1181" width="159" height="70" rx="7"/><text x="831.5" y="1198.4"><tspan x="831.5">-tubi di varia lunghezza</tspan><tspan x="831.5" dy="14.6">-gen.6</tspan><tspan x="831.5" dy="14.6">-fondo ceco</tspan><tspan x="831.5" dy="14.6">-sfociano nel proctodeo</tspan></text></g>
<g id="n-h20"><rect x="497" y="1179" width="99" height="67" rx="7"/><text x="546.5" y="1194.9"><tspan x="546.5">h20</tspan><tspan x="546.5" dy="14.6">sali minerali</tspan><tspan x="546.5" dy="14.6">acido urico</tspan><tspan x="546.5" dy="14.6">altri cataboliti</tspan></text></g>
<g id="n-urina"><rect x="481" y="1254" width="135" height="41" rx="7"/><text x="548.5" y="1271.5"><tspan x="548.5">urina</tspan><tspan x="548.5" dy="14.6">(presente nel lume)</tspan></text></g>
<g id="n-riversata"><rect x="473" y="1301" width="155" height="39" rx="7"/><text x="550.5" y="1317.5"><tspan x="550.5">riversata nel proctodeo</tspan><tspan x="550.5" dy="14.6">e defluita con le feci</tspan></text></g>
<g id="n-sotraggono"><rect x="752" y="1262" width="157" height="38" rx="7"/><text x="830.5" y="1278"><tspan x="830.5">sotraggono i cataboliti</tspan><tspan x="830.5" dy="14.6">cristalloidi dall'emolinfa</tspan></text></g>
<g id="n-trasformazione"><rect x="673" y="1315" width="219" height="38" rx="7"/><text x="782.5" y="1331"><tspan x="782.5">trasformazione sostanze colloidali</tspan><tspan x="782.5" dy="14.6">in forma cristalloide</tspan></text></g>
<g id="n-sostanzegrosse"><rect x="604" y="1361" width="205" height="57" rx="7"/><text x="706.5" y="1379.2"><tspan x="706.5">le sostanze più grosse vengono</tspan><tspan x="706.5" dy="14.6">accumulate nell'epidermide e</tspan><tspan x="706.5" dy="14.6">espulse alla muta</tspan></text></g>
<g id="n-celluleuriche"><rect x="961" y="1132" width="95" height="25" rx="7"/><text x="1008.5" y="1148.8">cellule uriche</text></g>
<g id="n-malpighiani"><rect x="958" y="1203" width="113" height="27" rx="7"/><text x="1014.5" y="1220.8">tubi malpighiani</text></g>
<g id="n-nefrociti"><rect x="972" y="1321" width="66" height="26" rx="7"/><text x="1005" y="1338.3">nefrociti</text></g>
<g id="n-tegumento"><rect x="955" y="1377" width="80" height="25" rx="7"/><text x="995" y="1393.8">tegumento</text></g>
<g id="n-escretore"><rect x="1166" y="1234" width="212" height="40" rx="7"/><text x="1272" y="1251"><tspan x="1272">APPARATO ESCRETORE</tspan><tspan x="1272" dy="14.6">(eliminazione sostanze di rifiuto)</tspan></text></g>
<g id="n-ghinadolesn"><rect x="670" y="1443" width="199" height="42" rx="7"/><text x="769.5" y="1461"><tspan x="769.5">ghinadole del sistema nervoso</tspan><tspan x="769.5" dy="14.6">(nel cerebro)</tspan></text></g>
<g id="n-ormonecerebrale"><rect x="497" y="1475" width="143" height="57" rx="7"/><text x="568.5" y="1493.2"><tspan x="568.5">ormone cerebrale</tspan><tspan x="568.5" dy="14.6">(attiva e regola tutto</tspan><tspan x="568.5" dy="14.6">il sistema secretore)</tspan></text></g>
<g id="n-neuricrine"><rect x="709" y="1491" width="138" height="25" rx="7"/><text x="778" y="1507.8">ghiandole neuricrine</text></g>
<g id="n-organuli"><rect x="725" y="1530" width="114" height="39" rx="7"/><text x="782" y="1546.5"><tspan x="782">-2 organuli</tspan><tspan x="782" dy="14.6">-ai lati dell'aorta</tspan></text></g>
<g id="n-secrinterna"><rect x="931" y="1509" width="126" height="37" rx="7"/><text x="994" y="1524.5"><tspan x="994">ghiandole a</tspan><tspan x="994" dy="14.6">secrezione interna</tspan></text></g>
<g id="n-serbatoi"><rect x="551" y="1575" width="175" height="24" rx="7"/><text x="638.5" y="1591.3">serbatoi ormone cerebrale</text></g>
<g id="n-corpicardiaci"><rect x="745" y="1575" width="94" height="26" rx="7"/><text x="792" y="1592.3">corpi cardiaci</text></g>
<g id="n-lateralmente"><rect x="499" y="1609" width="170" height="26" rx="7"/><text x="584" y="1626.3">lateralmente corpi cadiaci</text></g>
<g id="n-corpiallati"><rect x="544" y="1642" width="79" height="27" rx="7"/><text x="583.5" y="1659.8">corpi allati</text></g>
<g id="n-endocrine"><rect x="763" y="1626" width="136" height="27" rx="7"/><text x="831" y="1643.8">ghiandole endocrine</text></g>
<g id="n-neotenina"><rect x="320" y="1637" width="140" height="40" rx="7"/><text x="390" y="1654"><tspan x="390">secernere neotenina</tspan><tspan x="390" dy="14.6">(ormone giovinezza)</tspan></text></g>
<g id="n-toraciche"><rect x="506" y="1685" width="132" height="27" rx="7"/><text x="572" y="1702.8">ghiandole toraciche</text></g>
<g id="n-ecdisione"><rect x="288" y="1685" width="143" height="43" rx="7"/><text x="359.5" y="1703.5"><tspan x="359.5">produzione ecdisione</tspan><tspan x="359.5" dy="14.6">(ormone muta)</tspan></text></g>
<g id="n-stadi"><rect x="509" y="1720" width="126" height="27" rx="7"/><text x="572" y="1737.8">solo stadi giovanili</text></g>
<g id="n-ceripare"><rect x="778" y="1702" width="126" height="27" rx="7"/><text x="841" y="1719.8">ghinadole ceripare</text></g>
<g id="n-sericipare"><rect x="766" y="1735" width="136" height="27" rx="7"/><text x="834" y="1752.8">ghiandole sericipare</text></g>
<g id="n-laccipare"><rect x="774" y="1765" width="130" height="28" rx="7"/><text x="839" y="1783.3">ghiandole laccipare</text></g>
<g id="n-urticanti"><rect x="774" y="1797" width="129" height="26" rx="7"/><text x="838.5" y="1814.3">ghiandole urticanti</text></g>
<g id="n-veleniere"><rect x="774" y="1830" width="133" height="27" rx="7"/><text x="840.5" y="1847.8">ghinadole veleniere</text></g>
<g id="n-salivari"><rect x="777" y="1863" width="120" height="27" rx="7"/><text x="837" y="1880.8">ghiandole salivari</text></g>
<g id="n-sopracerebrali"><rect x="750" y="1893" width="162" height="27" rx="7"/><text x="831" y="1910.8">ghiandole sopracerebrali</text></g>
<g id="n-muta"><rect x="766" y="1924" width="142" height="27" rx="7"/><text x="837" y="1941.8">ghiandole della muta</text></g>
<g id="n-ghferomoni"><rect x="758" y="1959" width="156" height="26" rx="7"/><text x="836" y="1976.3">ghinaodle a feromoni</text></g>
<g id="n-feromoni"><rect x="606" y="1963" width="128" height="43" rx="7"/><text x="670" y="1981.5"><tspan x="670">feromoni</tspan><tspan x="670" dy="14.6">(messaggi chimici)</tspan></text></g>
<g id="n-aggregazione"><rect x="397" y="1935" width="97" height="26" rx="7"/><text x="445.5" y="1952.3">aggregazione</text></g>
<g id="n-gragarizzanti"><rect x="277" y="1860" width="94" height="27" rx="7"/><text x="324" y="1877.8">gragarizzanti</text></g>
<g id="n-radunarsi"><rect x="149" y="1864" width="97" height="25" rx="7"/><text x="197.5" y="1880.8">per radunarsi</text></g>
<g id="n-traccia"><rect x="281" y="1909" width="56" height="25" rx="7"/><text x="309" y="1925.8">traccia</text></g>
<g id="n-indicare"><rect x="93" y="1900" width="155" height="39" rx="7"/><text x="170.5" y="1916.5"><tspan x="170.5">per indicare la strada</tspan><tspan x="170.5" dy="14.6">verso una fonte di cibo</tspan></text></g>
<g id="n-allarme1"><rect x="295" y="1960" width="60" height="25" rx="7"/><text x="325" y="1976.8">allarme</text></g>
<g id="n-aggragazioneind"><rect x="37" y="1945" width="216" height="43" rx="7"/><text x="145" y="1963.5"><tspan x="145">aggragazione individui nella zona</tspan><tspan x="145" dy="14.6">di pericolo per resitere all'intruso</tspan></text></g>
<g id="n-dispersione"><rect x="430" y="2017" width="99" height="25" rx="7"/><text x="479.5" y="2033.8">di dispersione</text></g>
<g id="n-allarme2"><rect x="310" y="2005" width="60" height="25" rx="7"/><text x="340" y="2021.8">allarme</text></g>
<g id="n-dispersioneind"><rect x="104" y="1992" width="171" height="41" rx="7"/><text x="189.5" y="2009.5"><tspan x="189.5">dispersione degli individui</tspan><tspan x="189.5" dy="14.6">dalla zona di pericolo</tspan></text></g>
<g id="n-antiovo"><rect x="268" y="2048" width="136" height="25" rx="7"/><text x="336" y="2064.8">anti-ovodeposizione</text></g>
<g id="n-fammine"><rect x="2" y="2037" width="250" height="43" rx="7"/><text x="127" y="2055.5"><tspan x="127">le fammine marcano il frtto per evitare</tspan><tspan x="127" dy="14.6">che è già stato deposto un uovo li</tspan></text></g>
<g id="n-antiafro"><rect x="277" y="2101" width="104" height="25" rx="7"/><text x="329" y="2117.8">anti-afrodisiaci</text></g>
<g id="n-maschi"><rect x="60" y="2085" width="195" height="56" rx="7"/><text x="157.5" y="2102.7"><tspan x="157.5">i maschi</tspan><tspan x="157.5" dy="14.6">marcano la femmina per</tspan><tspan x="157.5" dy="14.6">evitare che venga rifecondata</tspan></text></g>
<g id="n-sessuali"><rect x="439" y="2149" width="62" height="24" rx="7"/><text x="470" y="2165.3">sessuali</text></g>
<g id="n-emessi"><rect x="267" y="2142" width="148" height="43" rx="7"/><text x="341" y="2160.5"><tspan x="341">emessi dalla femina</tspan><tspan x="341" dy="14.6">per attirare il maschio</tspan></text></g>
<g id="n-disorientamento"><rect x="61" y="2225" width="373" height="58" rx="7"/><text x="247.5" y="2243.7"><tspan x="247.5">disorientamento</tspan><tspan x="247.5" dy="14.6">(si spruzzano ferormoni nell'aria e si disorientano i maschi)</tspan><tspan x="247.5" dy="14.6">(efficace se l'area su cui viene effettuata su un'intera area)</tspan></text></g>
<g id="n-trappole"><rect x="443" y="2228" width="126" height="39" rx="7"/><text x="506" y="2244.5"><tspan x="506">trappole di cattura</tspan><tspan x="506" dy="14.6">massali</tspan></text></g>
<g id="n-trapolesessuali"><rect x="574" y="2221" width="140" height="42" rx="7"/><text x="644" y="2239"><tspan x="644">trapole sessuali</tspan><tspan x="644" dy="14.6">(per il monitoraggio)</tspan></text></g>
<g id="n-endocrino"><rect x="993" y="1559" width="124" height="25" rx="7"/><text x="1055" y="1575.8">sistema endocrino</text></g>
<g id="n-secretore"><rect x="1223" y="1575" width="157" height="25" rx="7"/><text x="1301.5" y="1591.8">APPARATO SECRETORE</text></g>
<g id="n-regolazione"><rect x="971" y="1635" width="184" height="27" rx="7"/><text x="1063" y="1652.8">regolazione vita di relazione</text></g>
<g id="n-caratteristico"><rect x="929" y="1673" width="96" height="38" rx="7"/><text x="977" y="1689"><tspan x="977">caratteristico</tspan><tspan x="977" dy="14.6">dell'ambiente</tspan></text></g>
<g id="n-esocrino"><rect x="1007" y="1728" width="116" height="24" rx="7"/><text x="1065" y="1744.3">sistema esocrino</text></g>
<g id="n-nervoso"><rect x="1687" y="921" width="137" height="25" rx="7"/><text x="1755.5" y="937.8">SISTEMA NERVOSO</text></g>
<g id="n-ricezioni"><rect x="1903" y="844" width="144" height="43" rx="7"/><text x="1975" y="862.5"><tspan x="1975">1) ricezioni stimoli da</tspan><tspan x="1975" dy="14.6">parte dei dendriti</tspan></text></g>
<g id="n-impulso"><rect x="2054" y="845" width="226" height="43" rx="7"/><text x="2167" y="863.5"><tspan x="2167">2) impulso nervoso nel neurone</tspan><tspan x="2167" dy="14.6">che si propaga attraverso il neurite</tspan></text></g>
<g id="n-liberazione"><rect x="2285" y="837" width="241" height="57" rx="7"/><text x="2405.5" y="855.2"><tspan x="2405.5">2b)liberazione da parte del neurite di</tspan><tspan x="2405.5" dy="14.6">acetilcolina o adrenalina</tspan><tspan x="2405.5" dy="14.6">nello spazio tra le cellule</tspan></text></g>
<g id="n-inattivazione"><rect x="2529" y="837" width="234" height="58" rx="7"/><text x="2646" y="855.7"><tspan x="2646">2c) inattivazione di queste sostanze</tspan><tspan x="2646" dy="14.6">da parte dell'enzima colinesterasi</tspan><tspan x="2646" dy="14.6">(prodotto sempre dal neurite)</tspan></text></g>
<g id="n-conseguente"><rect x="2769" y="851" width="210" height="43" rx="7"/><text x="2874" y="869.5"><tspan x="2874">3) conseguente stimolazione dei</tspan><tspan x="2874" dy="14.6">dendriti della cellula seguente</tspan></text></g>
<g id="n-neurone"><rect x="1977" y="924" width="65" height="22" rx="7"/><text x="2009.5" y="939.3">neurone</text></g>
<g id="n-corpocellulare"><rect x="2380" y="904" width="139" height="43" rx="7"/><text x="2449.5" y="922.5"><tspan x="2449.5">corpo cellilare</tspan><tspan x="2449.5" dy="14.6">(citplasma e nucleo)</tspan></text></g>
<g id="n-dendriti"><rect x="2381" y="952" width="195" height="56" rx="7"/><text x="2478.5" y="969.7"><tspan x="2478.5">dendriti</tspan><tspan x="2478.5" dy="14.6">(prolungamenti citoplasmatici</tspan><tspan x="2478.5" dy="14.6">del corpo cellulare)</tspan></text></g>
<g id="n-neurite"><rect x="2383" y="1010" width="168" height="102" rx="7"/><text x="2467" y="1028.8"><tspan x="2467">neurite</tspan><tspan x="2467" dy="14.6">(o assone)</tspan><tspan x="2467" dy="14.6">(filamento sottile e</tspan><tspan x="2467" dy="14.6">ramificato che mette in</tspan><tspan x="2467" dy="14.6">collegamento un neurone</tspan><tspan x="2467" dy="14.6">con un altro neurone)</tspan></text></g>
<g id="n-sensoriali"><rect x="2088" y="991" width="72" height="25" rx="7"/><text x="2124" y="1007.8">sensoriali</text></g>
<g id="n-motori"><rect x="2085" y="1038" width="55" height="24" rx="7"/><text x="2112.5" y="1054.3">motori</text></g>
<g id="n-associativi"><rect x="2085" y="1097" width="80" height="26" rx="7"/><text x="2125" y="1114.3">associativi</text></g>
<g id="n-coordina"><rect x="1903" y="1133" width="173" height="39" rx="7"/><text x="1989.5" y="1149.5"><tspan x="1989.5">coordina una risposta agli</tspan><tspan x="1989.5" dy="14.6">stimoli che riceve l'insetto</tspan></text></g>
<g id="n-snc"><rect x="1908" y="1178" width="167" height="25" rx="7"/><text x="1991.5" y="1194.8">sistema nervoso centrale</text></g>
<g id="n-gangli"><rect x="1902" y="1222" width="188" height="57" rx="7"/><text x="1996" y="1240.2"><tspan x="1996">gangli</tspan><tspan x="1996" dy="14.6">(ammassi di cellule nervose)</tspan><tspan x="1996" dy="14.6">(1 coppia per segmento)</tspan></text></g>
<g id="n-cervello"><rect x="2182" y="1174" width="62" height="26" rx="7"/><text x="2213" y="1191.3">cervello</text></g>
<g id="n-gnatocelebro"><rect x="2175" y="1227" width="95" height="26" rx="7"/><text x="2222.5" y="1244.3">gnatocelebro</text></g>
<g id="n-catena"><rect x="2172" y="1284" width="184" height="27" rx="7"/><text x="2264" y="1301.8">catena ganglionare ventrale</text></g>
<g id="n-viscerale"><rect x="1903" y="1326" width="172" height="26" rx="7"/><text x="1989" y="1343.3">sistema nervoso viscerale</text></g>
<g id="n-periferico"><rect x="1903" y="1377" width="175" height="27" rx="7"/><text x="1990.5" y="1394.8">sistema nervoso periferico</text></g>
<g id="n-sensillo"><rect x="2207" y="1425" width="61" height="24" rx="7"/><text x="2237.5" y="1441.3">sensillo</text></g>
<g id="n-meccano"><rect x="2411" y="1390" width="120" height="25" rx="7"/><text x="2471" y="1406.8">meccanorecettori</text></g>
<g id="n-chemio"><rect x="2418" y="1419" width="111" height="25" rx="7"/><text x="2473.5" y="1435.8">chemiorecettori</text></g>
<g id="n-igro"><rect x="2418" y="1447" width="88" height="27" rx="7"/><text x="2462" y="1464.8">igrorecettori</text></g>
<g id="n-termo"><rect x="2416" y="1479" width="102" height="27" rx="7"/><text x="2467" y="1496.8">termorecettori</text></g>
<g id="n-foto"><rect x="2418" y="1511" width="89" height="25" rx="7"/><text x="2462.5" y="1527.8">fotorecettori</text></g>
<g id="n-maggiorparte"><rect x="2052" y="1499" width="293" height="55" rx="7"/><text x="2198.5" y="1516.2"><tspan x="2198.5">nella maggior parte dei casi è formato da più</tspan><tspan x="2198.5" dy="14.6">neuroni associati a una cellula dell'epidermide</tspan><tspan x="2198.5" dy="14.6">(setola o un aculeo)</tspan></text></g>
<g id="n-strofinio"><rect x="3126" y="1287" width="258" height="43" rx="7"/><text x="3255" y="1305.5"><tspan x="3255">strofinio o percussione di parti del corpo</tspan><tspan x="3255" dy="14.6">su un supporto esterno dell'insetto</tspan></text></g>
<g id="n-sfregamento"><rect x="3128" y="1332" width="284" height="57" rx="7"/><text x="3270" y="1350.2"><tspan x="3270">sfregamento di parti del corpo</tspan><tspan x="3270" dy="14.6">(cavallette - femore contro margine costale)</tspan><tspan x="3270" dy="14.6">(grilli - tegmine)</tspan></text></g>
<g id="n-organisonori"><rect x="3129" y="1394" width="172" height="55" rx="7"/><text x="3215" y="1411.2"><tspan x="3215">organi sonori veri e propri</tspan><tspan x="3215" dy="14.6">(membrane vibranti)</tspan><tspan x="3215" dy="14.6">(cicale)</tspan></text></g>
<g id="n-suoni"><rect x="2943" y="1338" width="48" height="24" rx="7"/><text x="2967" y="1354.3">suoni</text></g>
<g id="n-luci"><rect x="2961" y="1499" width="38" height="24" rx="7"/><text x="2980" y="1515.3">luci</text></g>
<g id="n-simbiosi"><rect x="3153" y="1457" width="214" height="56" rx="7"/><text x="3260" y="1474.7"><tspan x="3260">simbiosi con batteri fosforescenti</tspan><tspan x="3260" dy="14.6">(trasormano l'energia</tspan><tspan x="3260" dy="14.6">chimica in luminosa)</tspan></text></g>
<g id="n-luminescenti"><rect x="3132" y="1527" width="135" height="27" rx="7"/><text x="3199.5" y="1544.8">organi luminescenti</text></g>
<g id="n-membranatrasp"><rect x="3234" y="1573" width="208" height="84" rx="7"/><text x="3338" y="1590.1"><tspan x="3338">una membrana trasparente</tspan><tspan x="3338" dy="14.6">uno strato riflettente</tspan><tspan x="3338" dy="14.6">strato fotogeno</tspan><tspan x="3338" dy="14.6">(sostanza grassa con luciferina)</tspan><tspan x="3338" dy="14.6">(luciferina + luciferasi=luce)</tspan></text></g>
<g id="n-riproduttore"><rect x="2070" y="1667" width="180" height="25" rx="7"/><text x="2160" y="1683.8">APPARATO RIPRODUTTORE</text></g>
<g id="n-gonocorismo"><rect x="2379" y="1658" width="78" height="27" rx="7"/><text x="2418" y="1675.8">gonocorismo</text></g>
<g id="n-ermafroditismo"><rect x="2368" y="1687" width="181" height="57" rx="7"/><text x="2458.5" y="1705.2"><tspan x="2458.5">ermafroditismo</tspan><tspan x="2458.5" dy="14.6">(presenza di entrambi gli</tspan><tspan x="2458.5" dy="14.6">organi sessuali funzionanti)</tspan></text></g>
<g id="n-addome"><rect x="2371" y="1747" width="152" height="57" rx="7"/><text x="2447" y="1765.2"><tspan x="2447">addome</tspan><tspan x="2447" dy="14.6">(sbocca nel 9° urite M)</tspan><tspan x="2447" dy="14.6">(8°-9° F)</tspan></text></g>
<g id="n-senzaacc"><rect x="1717" y="1691" width="144" height="56" rx="7"/><text x="1789" y="1708.7"><tspan x="1789">senza accoppiamento</tspan><tspan x="1789" dy="14.6">(il maschio lascia per</tspan><tspan x="1789" dy="14.6">terra spermatofori)</tspan></text></g>
<g id="n-conovo"><rect x="1873" y="1715" width="119" height="41" rx="7"/><text x="1932.5" y="1732.5"><tspan x="1932.5">con ovoposizione</tspan><tspan x="1932.5" dy="14.6">procastinata</tspan></text></g>
<g id="n-fatele"><rect x="1751" y="1754" width="139" height="27" rx="7"/><text x="1820.5" y="1771.8">fatele per il maschio</text></g>
<g id="n-offerte"><rect x="1751" y="1785" width="98" height="26" rx="7"/><text x="1800" y="1802.3">offerte di cibo</text></g>
<g id="n-parate"><rect x="1751" y="1814" width="96" height="27" rx="7"/><text x="1799" y="1831.8">parate nuziali</text></g>
<g id="n-anfigonia"><rect x="1902" y="1846" width="132" height="56" rx="7"/><text x="1968" y="1863.7"><tspan x="1968">anfigonia</tspan><tspan x="1968" dy="14.6">(fecondazione</tspan><tspan x="1968" dy="14.6">uovo-spermatozoo)</tspan></text></g>
<g id="n-ferormonisess"><rect x="1609" y="1850" width="165" height="43" rx="7"/><text x="1691.5" y="1868.5"><tspan x="1691.5">ferormoni sessuali (F)</tspan><tspan x="1691.5" dy="14.6">ferormoni afrodisiaci (M)</tspan></text></g>
<g id="n-suonigen"><rect x="1700" y="1897" width="98" height="27" rx="7"/><text x="1749" y="1914.8">suoni (gen.M)</text></g>
<g id="n-segnali"><rect x="1696" y="1931" width="113" height="27" rx="7"/><text x="1752.5" y="1948.8">segnali luminosi</text></g>
<g id="n-movimento"><rect x="1633" y="1960" width="83" height="25" rx="7"/><text x="1674.5" y="1976.8">movimento</text></g>
<g id="n-quiete"><rect x="1696" y="1999" width="56" height="27" rx="7"/><text x="1724" y="2016.8">quiete</text></g>
<g id="n-partenogenesi"><rect x="1993" y="1960" width="230" height="39" rx="7"/><text x="2108" y="1976.5"><tspan x="2108">partenogenesi</tspan><tspan x="2108" dy="14.6">(sviluppo uovo senza fecondazione)</tspan></text></g>
<g id="n-diploidi"><rect x="1863" y="2011" width="82" height="43" rx="7"/><text x="1904" y="2029.5"><tspan x="1904">diploidi</tspan><tspan x="1904" dy="14.6">(no mitosi)</tspan></text></g>
<g id="n-aploidi"><rect x="1948" y="2006" width="54" height="27" rx="7"/><text x="1975" y="2023.8">aploidi</text></g>
<g id="n-accidentale"><rect x="1985" y="2058" width="116" height="42" rx="7"/><text x="2043" y="2076"><tspan x="2043">accidentale</tspan><tspan x="2043" dy="14.6">(saltuariamente)</tspan></text></g>
<g id="n-regolare"><rect x="2108" y="2059" width="104" height="42" rx="7"/><text x="2160" y="2077"><tspan x="2160">regolare</tspan><tspan x="2160" dy="14.6">(cicli periodici)</tspan></text></g>
<g id="n-gonadi"><rect x="2318" y="1848" width="57" height="27" rx="7"/><text x="2346.5" y="1865.8">gonadi</text></g>
<g id="n-testicoli"><rect x="2474" y="1817" width="63" height="25" rx="7"/><text x="2505.5" y="1833.8">testicoli</text></g>
<g id="n-ovari"><rect x="2499" y="1850" width="46" height="24" rx="7"/><text x="2522" y="1866.3">ovari</text></g>
<g id="n-gonodottopari"><rect x="2310" y="1880" width="138" height="57" rx="7"/><text x="2379" y="1898.2"><tspan x="2379">gonodotto pari</tspan><tspan x="2379" dy="14.6">(vasi deferenti (M))</tspan><tspan x="2379" dy="14.6">(ovidotti laterali (F))</tspan></text></g>
<g id="n-condotti"><rect x="2550" y="1889" width="182" height="43" rx="7"/><text x="2641" y="1907.5"><tspan x="2641">condotti che convogliano i</tspan><tspan x="2641" dy="14.6">gameti proditti dalle gonadi</tspan></text></g>
<g id="n-gonodottoimpari"><rect x="2279" y="1937" width="227" height="70" rx="7"/><text x="2392.5" y="1954.4"><tspan x="2392.5">gonodotto impari</tspan><tspan x="2392.5" dy="14.6">(canale eiaculatore (M))</tspan><tspan x="2392.5" dy="14.6">(parte distale-ovidotto comune(F))</tspan><tspan x="2392.5" dy="14.6">(parte prossimale-vagina(F))</tspan></text></g>
<g id="n-confluiscono"><rect x="2537" y="1954" width="190" height="38" rx="7"/><text x="2632" y="1970"><tspan x="2632">-confluiscono i gonodotti pari</tspan><tspan x="2632" dy="14.6">-comunica con l'esterno</tspan></text></g>
<g id="n-genitali"><rect x="2335" y="2014" width="105" height="26" rx="7"/><text x="2387.5" y="2031.3">genitali esterni</text></g>
<g id="n-copulatore"><rect x="2564" y="2000" width="151" height="27" rx="7"/><text x="2639.5" y="2017.8">organo copulatore (M)</text></g>
<g id="n-ovopositore"><rect x="2567" y="2038" width="108" height="27" rx="7"/><text x="2621" y="2055.8">ovopositore (F)</text></g>
<g id="n-ovoposizione"><rect x="2763" y="2043" width="92" height="26" rx="7"/><text x="2809" y="2060.3">ovoposizione</text></g>
<g id="n-ovipari"><rect x="2978" y="2043" width="56" height="27" rx="7"/><text x="3006" y="2060.8">ovipari</text></g>
<g id="n-ovovivipari"><rect x="2979" y="2076" width="80" height="27" rx="7"/><text x="3019" y="2093.8">ovovivipari</text></g>
<g id="n-singolarmente"><rect x="3002" y="2110" width="100" height="27" rx="7"/><text x="3052" y="2127.8">singolarmente</text></g>
<g id="n-gruppi"><rect x="3022" y="2139" width="55" height="27" rx="7"/><text x="3049.5" y="2156.8">gruppi</text></g>
<g id="n-ooteche"><rect x="3115" y="2123" width="62" height="24" rx="7"/><text x="3146" y="2139.3">ooteche</text></g>
<g id="n-ovature"><rect x="3112" y="2152" width="63" height="25" rx="7"/><text x="3143.5" y="2168.8">ovature</text></g>
<g id="n-terreno"><rect x="2935" y="2141" width="60" height="25" rx="7"/><text x="2965" y="2157.8">terreno</text></g>
<g id="n-piante"><rect x="2936" y="2172" width="52" height="27" rx="7"/><text x="2962" y="2189.8">piante</text></g>
<g id="n-h2o"><rect x="2936" y="2203" width="41" height="25" rx="7"/><text x="2956.5" y="2219.8">H2O</text></g>
<g id="n-altrianimali"><rect x="2914" y="2231" width="86" height="25" rx="7"/><text x="2957" y="2247.8">altri animali</text></g>
<g id="n-sterco"><rect x="2939" y="2260" width="52" height="25" rx="7"/><text x="2965" y="2276.8">sterco</text></g>
<g id="n-nidi"><rect x="2948" y="2293" width="36" height="25" rx="7"/><text x="2966" y="2309.8">nidi</text></g>
<g id="n-vescicole"><rect x="2497" y="2077" width="123" height="24" rx="7"/><text x="2558.5" y="2093.3">vescicole seminali</text></g>
<g id="n-organiaccessori"><rect x="2323" y="2096" width="113" height="27" rx="7"/><text x="2379.5" y="2113.8">organi accessori</text></g>
<g id="n-ghaccM"><rect x="2498" y="2113" width="142" height="27" rx="7"/><text x="2569" y="2130.8">ghiandole accessorie</text></g>
<g id="n-borsacop"><rect x="2517" y="2166" width="118" height="27" rx="7"/><text x="2576" y="2183.8">borsa copulatrice</text></g>
<g id="n-speramateca"><rect x="2515" y="2199" width="92" height="27" rx="7"/><text x="2561" y="2216.8">speramateca</text></g>
<g id="n-ghaccF"><rect x="2499" y="2246" width="140" height="42" rx="7"/><text x="2569" y="2264"><tspan x="2569">ghiandole accessorie</tspan><tspan x="2569" dy="14.6">(gen. colleteriche)</tspan></text></g>
</g>
</svg>
